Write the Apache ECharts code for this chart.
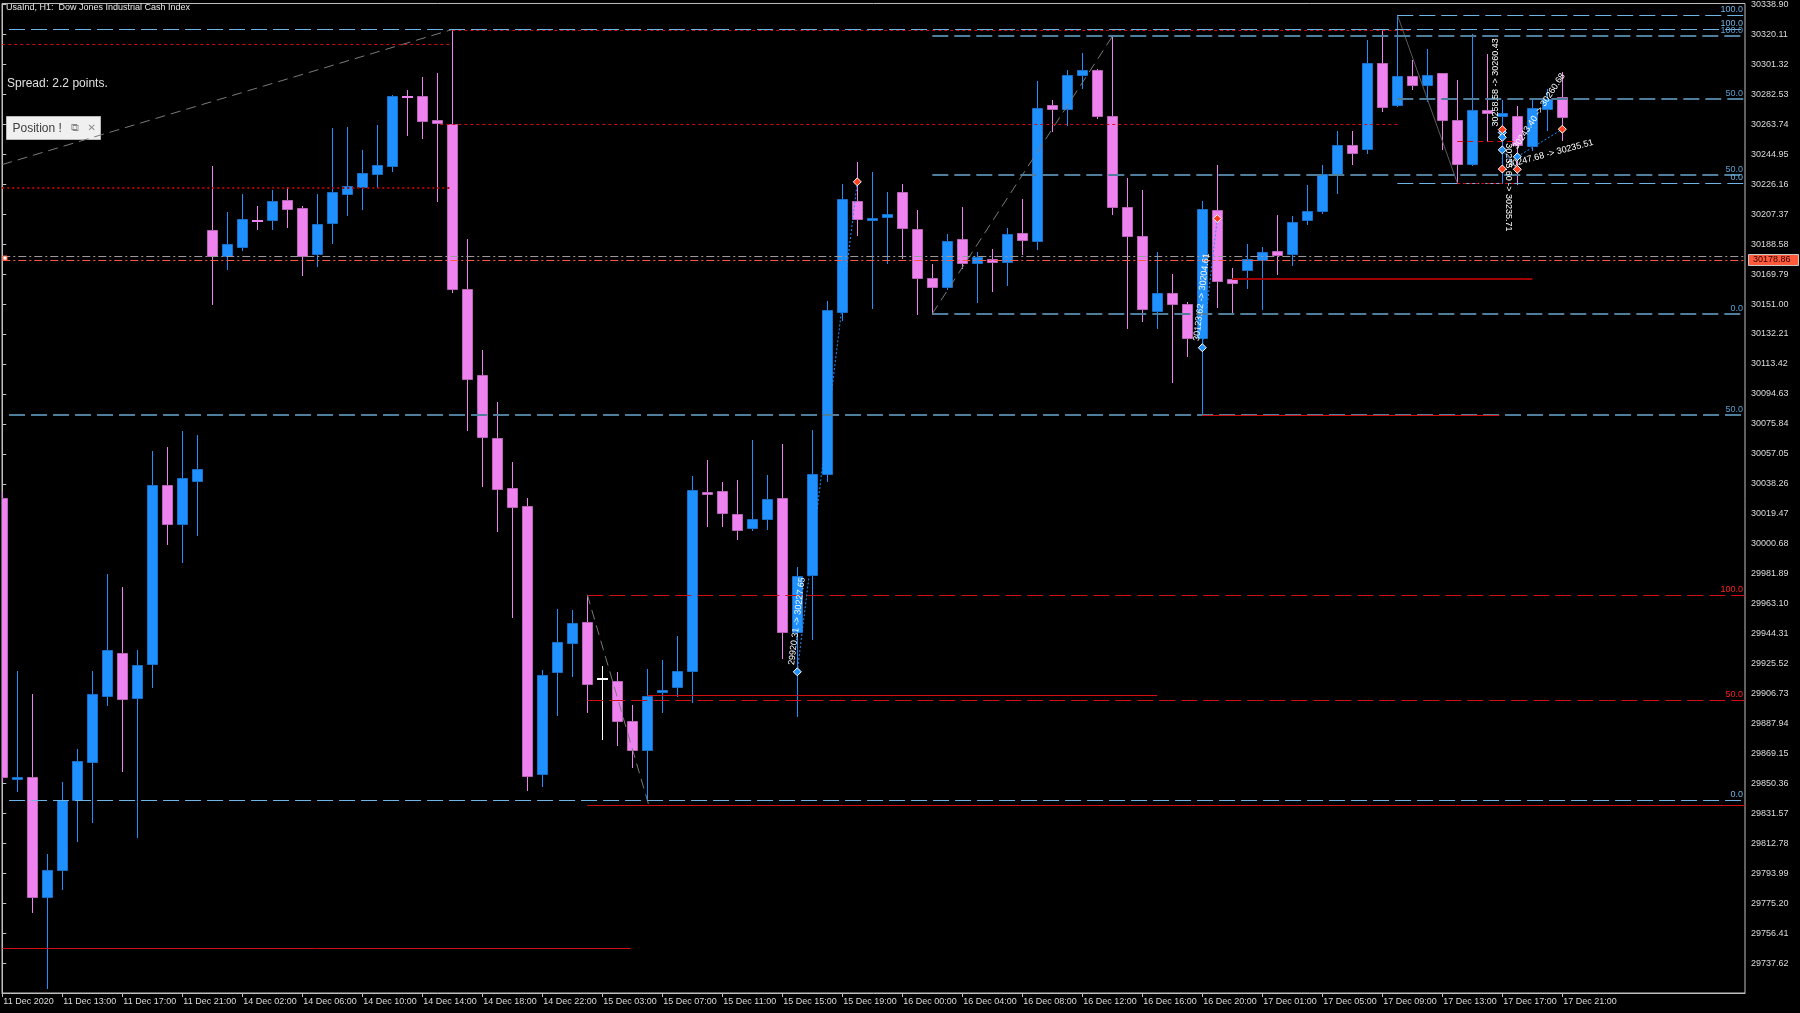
<!DOCTYPE html>
<html><head><meta charset="utf-8">
<script src="https://cdn.jsdelivr.net/npm/echarts@6/dist/echarts.min.js"></script>
<style>html,body{margin:0;padding:0;background:#000;}#c{width:1800px;height:1013px;}</style>
</head><body><div id="c"></div>
<script>
// ---------- data ----------
const tickLabels = ['11 Dec 2020','11 Dec 13:00','11 Dec 17:00','11 Dec 21:00','14 Dec 02:00','14 Dec 06:00','14 Dec 10:00','14 Dec 14:00','14 Dec 18:00','14 Dec 22:00','15 Dec 03:00','15 Dec 07:00','15 Dec 11:00','15 Dec 15:00','15 Dec 19:00','16 Dec 00:00','16 Dec 04:00','16 Dec 08:00','16 Dec 12:00','16 Dec 16:00','16 Dec 20:00','17 Dec 01:00','17 Dec 05:00','17 Dec 09:00','17 Dec 13:00','17 Dec 17:00','17 Dec 21:00'];
const yTicks = [29737.62,29756.41,29775.20,29793.99,29812.78,29831.57,29850.36,29869.15,29887.94,29906.73,29925.52,29944.31,29963.10,29981.89,30000.68,30019.47,30038.26,30057.05,30075.84,30094.63,30113.42,30132.21,30151.00,30169.79,30188.58,30207.37,30226.16,30244.95,30263.74,30282.53,30301.32,30320.11,30338.90];

const opens = [30029.62,29852.87,29854.62,29778.90,29796.12,29839.78,29863.96,29904.98,29932.29,29903.79,
29925.08,30037.51,30013.33,30040.14,30197.29,30181.00,30187.00,30203.93,30203.61,30216.14,
30211.32,30182.32,30201.86,30219.90,30224.60,30232.80,30237.87,30281.53,30281.66,30266.25,
30264.12,30160.21,30106.53,30066.95,30035.63,30024.42,29856.00,29920.27,29938.68,29951.82,
29916.13,29914.75,29889.32,29871.28,29907.67,29910.87,29921.02,30033.24,30033.43,30019.28,
30010.27,30016.28,30029.24,29945.13,29980.83,30044.09,30145.80,30215.51,30203.61,30205.30,
30221.59,30197.98,30167.48,30161.84,30191.53,30176.49,30179.19,30177.12,30195.66,30190.65,
30276.08,30273.32,30294.87,30297.75,30268.94,30211.94,30193.78,30146.62,30157.89,30150.81,
30129.71,30209.69,30166.47,30172.29,30178.37,30184.01,30182.51,30203.61,30209.25,30232.86,
30250.59,30248.27,30302.45,30276.08,30293.81,30288.17,30295.68,30266.69,30239.13,30272.51,
30269.19,30269.19,30250.40,30273.45,30280.65];
const highs = [30033.00,29920.76,29906.42,29805.71,29851.05,29871.66,29920.76,29981.89,29973.50,29933.73,
30058.87,30061.25,30071.33,30068.70,30237.56,30208.50,30219.96,30212.70,30222.84,30224.41,
30212.70,30219.90,30261.55,30262.18,30247.45,30263.12,30282.28,30285.16,30293.18,30295.75,
30323.50,30191.84,30122.19,30089.31,30052.23,30029.24,29921.20,29959.86,29958.79,29968.74,
29923.65,29919.88,29899.22,29921.76,29927.78,29942.57,30043.39,30053.36,30039.20,30040.58,
30065.89,30043.84,30063.32,29986.15,30071.90,30153.00,30226.22,30240.25,30233.86,30221.59,
30226.16,30209.88,30176.24,30194.66,30211.75,30183.57,30185.64,30198.61,30216.77,30290.67,
30279.21,30298.00,30308.21,30298.19,30318.86,30229.92,30222.59,30183.76,30169.60,30152.44,
30215.95,30238.50,30173.74,30188.39,30186.70,30206.75,30206.12,30225.53,30238.06,30259.36,
30259.80,30316.77,30323.24,30332.45,30304.26,30311.15,30296.00,30291.30,30320.55,30308.02,
30279.21,30275.45,30280.21,30286.10,30296.31];
const lows = [29852.00,29845.73,29769.76,29721.84,29784.16,29814.10,29826.12,29899.72,29858.01,29816.98,
29910.93,30000.37,29989.10,30005.88,30151.25,30172.99,30185.14,30198.23,30198.23,30199.36,
30169.29,30174.61,30189.02,30206.56,30210.69,30224.47,30234.68,30256.73,30254.85,30215.83,
30158.64,30071.71,30036.57,30008.45,29954.77,29846.11,29848.68,29893.39,29917.82,29895.08,
29878.00,29874.54,29860.39,29839.72,29895.08,29905.04,29901.59,30011.64,30012.08,30003.31,
30009.33,30009.77,29928.71,29892.77,29941.00,30040.14,30140.92,30194.41,30148.31,30176.49,
30180.00,30144.74,30144.74,30160.21,30173.74,30152.44,30159.33,30163.09,30182.51,30185.64,
30259.36,30263.55,30286.48,30267.69,30207.56,30136.16,30140.36,30136.16,30102.34,30118.43,
30081.92,30149.13,30144.93,30161.21,30147.68,30169.98,30175.43,30200.92,30208.00,30220.52,
30238.88,30245.77,30272.19,30275.02,30286.10,30278.15,30248.27,30226.98,30238.50,30253.53,
30226.98,30226.35,30247.90,30260.42,30254.16];
const closes = [29854.12,29854.12,29778.90,29796.12,29839.78,29864.46,29906.67,29933.73,29903.29,29924.83,
30037.51,30013.33,30041.58,30047.34,30181.00,30188.64,30204.55,30203.30,30215.51,30210.50,
30180.94,30200.98,30221.15,30224.91,30233.37,30238.19,30281.66,30281.03,30266.00,30264.49,
30160.21,30104.28,30067.57,30034.94,30023.48,29855.06,29918.32,29939.13,29950.71,29912.68,
29916.13,29889.32,29871.28,29905.16,29908.92,29920.58,30034.12,30031.99,30020.21,30009.07,
30016.28,30028.56,29945.13,29980.39,30044.53,30147.18,30216.70,30204.05,30204.86,30207.37,
30198.79,30167.10,30161.84,30190.46,30176.49,30180.44,30177.12,30194.66,30191.09,30273.76,
30273.32,30294.87,30297.75,30268.75,30211.76,30193.59,30147.68,30157.70,30150.81,30129.71,
30210.69,30165.22,30163.97,30179.37,30183.76,30181.88,30202.55,30209.06,30232.61,30250.78,
30246.02,30302.39,30274.70,30293.81,30288.17,30294.87,30266.25,30239.13,30272.51,30270.82,
30270.82,30250.59,30273.95,30279.40,30268.56];

// Fibonacci retracements: [startBar, price at 100, price at 0]
const fibs = [[0.45, 30323.50, 29839.72],[62, 30318.86, 30144.93],[93, 30332.45, 30226.98],[39, 29968.74, 29836.60]];
const fibLevels = [100, 50, 0];
// horizontal segments: [price, fromBar, toBar]  (toBar null = right edge)
const redSolid = [[29747.00, 0, 41.9],[29905.78, 43, 77],[30081.47, 80, 99.8]];
const darkRedSolid = [[30166.66, 82, 102]];
const redDotted = [[30323.20, 30, 94],[30313.85, 0, 30],[30264.18, 29.2, 93],[30226.98, 97, 101]];
const darkRedDotted = [[30223.85, 0, 29.8]];
const redDashed = [[30253.53, 97, 101]];
const askPrice = 30181.06, bidPrice = 30178.86;
// trend lines: [bar0, price0, bar1, price1]
const trendLines = [[0, 30238.5, 29.98, 30323.2],[62, 30144.93, 74, 30318.86],[39, 29968.74, 43.1, 29836.6]];
const trendSolid = [[93, 30332.45, 97, 30226.98]];
// trades: [entryBar, entryPrice, exitBar, exitPrice]
const trades = [[53, 29920.31, 57, 30227.65],[80, 30123.62, 81, 30204.61],[100, 30258.58, 100, 30260.43],[100, 30255.60, 100, 30235.71],[100, 30247.68, 101, 30235.51],[101, 30243.40, 104, 30260.68]];

// ---------- chart ----------
const XMIN = -0.02, XMAX = 116.18, YMIN = 29718.83, YMAX = 30339.53;
const BULL = {fill:'#1e90ff', edge:'#1a6fc8'}, BEAR = {fill:'#ee82ee', edge:'#b865b8'}, DOJI = {fill:'#ffffff', edge:'#ffffff'};
const LIGHT = '#6db5e6', STEEL = '#4f7d9c', RED = '#d01010', DARKRED = '#a00000';
const FONT = 'Liberation Sans';
// label style per trade: rotation override (deg), anchor and x shift
const tradeLabelRot = [null, null, null, null, 15, 57];
const tradeLabelAtExit = [false, false, false, false, true, false];
const tradeLabelDx = [6, 6, 6, 6, -8, 6];

const chart = echarts.init(document.getElementById('c'), null, {width:1800, height:1013});

function candleItem(params, api){
  const i = api.value(0), o = api.value(1), c = api.value(2), l = api.value(3), h = api.value(4);
  const pO = api.coord([i,o]), pC = api.coord([i,c]), pH = api.coord([i,h]), pL = api.coord([i,l]);
  const cx = Math.round(pO[0]);
  const col = c > o ? BULL : (c < o ? BEAR : DOJI);
  const ch = [{type:'line', shape:{x1:cx+0.5, y1:Math.round(pH[1]), x2:cx+0.5, y2:Math.round(pL[1])+1}, style:{stroke:col.fill, lineWidth:1}}];
  const top = Math.round(Math.min(pO[1],pC[1])), bot = Math.round(Math.max(pO[1],pC[1]));
  if (bot - top < 2) ch.push({type:'rect', shape:{x:cx-5, y:top, width:11, height:2}, style:{fill:col.fill}});
  else ch.push({type:'rect', shape:{x:cx-4.5, y:top+0.5, width:10, height:bot-top}, style:{fill:col.fill, stroke:col.edge, lineWidth:1}});
  return {type:'group', children:ch};
}

function hSeries(name, rows, color, width, dash, z){
  return {type:'custom', name, coordinateSystem:'cartesian2d', clip:true, silent:true, z: z || 5,
    data: rows.map(r => [r[1], r[0], r[2] == null ? XMAX : r[2]]), encode:{x:[0,2], y:1},
    renderItem:(p, api) => {
      const a = api.coord([api.value(0), api.value(1)]), b = api.coord([api.value(2), api.value(1)]);
      const y = Math.round(a[1]) + (width % 2 ? 0.5 : 0);
      return {type:'line', shape:{x1:a[0], y1:y, x2:b[0], y2:y}, style:{stroke:color, lineWidth:width, lineDash:dash}};
    }};
}
function tSeries(name, rows, color, width, dash){
  return {type:'custom', name, coordinateSystem:'cartesian2d', clip:true, silent:true, z:4,
    data: rows, encode:{x:[0,2], y:[1,3]},
    renderItem:(p, api) => {
      const a = api.coord([api.value(0), api.value(1)]), b = api.coord([api.value(2), api.value(3)]);
      return {type:'line', shape:{x1:a[0], y1:a[1], x2:b[0], y2:b[1]}, style:{stroke:color, lineWidth:width, lineDash:dash}};
    }};
}

const fibStyle = [
  [{c:LIGHT,w:1},{c:STEEL,w:2},{c:LIGHT,w:1}],
  [{c:STEEL,w:2},{c:STEEL,w:2},{c:STEEL,w:2}],
  [{c:LIGHT,w:1},{c:STEEL,w:2},{c:LIGHT,w:1}],
  [{c:RED,w:1,lab:'#ff2020'},{c:RED,w:1,lab:'#ff2020'},{c:RED,w:1,solid:true,nolab:true}]
];
const fibSeries = {type:'custom', name:'fib', coordinateSystem:'cartesian2d', clip:true, silent:true, z:5,
  data: fibs.map(f => [f[0], f[1], f[2]]), encode:{x:0, y:[1,2]},
  renderItem:(p, api) => {
    const f = fibs[p.dataIndex], st = fibStyle[p.dataIndex];
    const ch = [];
    fibLevels.forEach((lv, k) => {
      const price = f[2] + (f[1] - f[2]) * lv / 100;
      const a = api.coord([f[0], price]), b = api.coord([XMAX, price]);
      const s = st[k];
      const y = Math.round(a[1]) + (s.w % 2 ? 0.5 : 0);
      ch.push({type:'line', shape:{x1:a[0], y1:y, x2:b[0], y2:y}, style:{stroke:s.c, lineWidth:s.w, lineDash: s.solid ? null : [16,6]}});
      if (!s.nolab) ch.push({type:'text', x:b[0]-2, y:Math.round(a[1])-1, style:{text: lv.toFixed(1), fill: s.lab || (s.w > 1 ? '#5aa0d0' : LIGHT), font:'9px ' + FONT, align:'right', verticalAlign:'bottom'}});
    });
    return {type:'group', children:ch};
  }};

const tradeSeries = {type:'custom', name:'trades', coordinateSystem:'cartesian2d', clip:false, silent:true, z:8,
  data: trades, encode:{x:[0,2], y:[1,3]},
  renderItem:(p, api) => {
    const k = p.dataIndex, t = trades[k];
    const a = api.coord([t[0], t[1]]), b = api.coord([t[2], t[3]]);
    let dx = b[0]-a[0], dy = b[1]-a[1];
    if (Math.abs(dx) < 0.5 && Math.abs(dy) < 6) { dy = dy <= 0 ? -1 : 1; dx = 0; }
    const ang = tradeLabelRot[k] != null ? tradeLabelRot[k] * Math.PI / 180 : Math.atan2(-dy, dx);
    const anc = tradeLabelAtExit[k] ? b : a;
    const txt = t[1].toFixed(2) + ' -> ' + t[3].toFixed(2);
    const dia = (pt, fill) => ({type:'polygon', shape:{points:[[pt[0],pt[1]-4],[pt[0]+4,pt[1]],[pt[0],pt[1]+4],[pt[0]-4,pt[1]]]}, style:{fill, stroke:'#ffffff', lineWidth:1}});
    return {type:'group', children:[
      {type:'line', shape:{x1:a[0], y1:a[1], x2:b[0], y2:b[1]}, style:{stroke:'#1e90ff', lineWidth:1, lineDash:[2,2]}},
      dia(a, '#1e90ff'), dia(b, '#ff4020'),
      {type:'text', x:anc[0], y:anc[1], rotation:ang, style:{text:txt, x:tradeLabelDx[k], y:-2, fill:'#ffffff', font:'9px ' + FONT, align:'left', verticalAlign:'bottom'}}
    ]};
  }};

const priceTag = {type:'custom', name:'tag', coordinateSystem:'cartesian2d', clip:false, silent:true, z:9,
  data:[[XMAX, bidPrice]], encode:{x:0, y:1},
  renderItem:(p, api) => {
    const a = api.coord([XMAX, bidPrice]);
    const y = Math.round(a[1]);
    return {type:'group', children:[
      {type:'rect', shape:{x:1748.5, y:y-5.5, width:50, height:11}, style:{fill:'#ff5a3c', stroke:'#c8c8c8', lineWidth:1}},
      {type:'text', x:1753, y:y, style:{text:bidPrice.toFixed(2), fill:'#300000', font:'9px ' + FONT, verticalAlign:'middle'}},
      {type:'rect', shape:{x:3, y:y-4, width:4, height:4}, style:{fill:'#ffffff', stroke:'#ff5a3c', lineWidth:1}}
    ]};
  }};

const option = {
  backgroundColor:'#000',
  animation:false,
  grid:{left:2, right:55, top:2, bottom:20, show:true, borderColor:'#c0c0c0', borderWidth:1, backgroundColor:'#000'},
  xAxis:{type:'value', min:XMIN, max:XMAX, position:'bottom',
    axisLine:{show:true, onZero:false, lineStyle:{color:'#c0c0c0'}},
    axisTick:{show:true, length:4, customValues: tickLabels.map((s,k)=>k*4), lineStyle:{color:'#c0c0c0'}},
    axisLabel:{customValues: tickLabels.map((s,k)=>k*4), formatter: v => tickLabels[Math.round(v/4)] || '', color:'#dcdcdc', fontSize:9, fontFamily:FONT, align:'left', margin:4, padding:[0,0,0,1]},
    splitLine:{show:false}},
  yAxis:{type:'value', min:YMIN, max:YMAX, position:'right', scale:true,
    axisLine:{show:true, lineStyle:{color:'#c0c0c0'}},
    axisTick:{show:true, length:4, customValues:yTicks, lineStyle:{color:'#c0c0c0'}},
    axisLabel:{customValues:yTicks, formatter: v => v.toFixed(2), color:'#dcdcdc', fontSize:9, fontFamily:FONT, margin:6},
    splitLine:{show:false}},
  graphic:[
    {type:'text', left:6, top:3, style:{text:'UsaInd, H1:  Dow Jones Industrial Cash Index', fill:'#e8e8e8', font:'9px ' + FONT}},
    {type:'text', left:7, top:78, style:{text:'Spread: 2.2 points.', fill:'#e0e0e0', font:'12px ' + FONT}},
    {type:'group', left:6, top:116, children:[
      {type:'rect', shape:{x:0, y:0, width:94, height:23}, style:{fill:'#f0f0f0', stroke:'#b8b8b8', lineWidth:1}},
      {type:'text', x:6, y:12, style:{text:'Position !', fill:'#404040', font:'12px ' + FONT, verticalAlign:'middle'}},
      {type:'text', x:64, y:12, style:{text:'⧉', fill:'#8a8a8a', font:'11px DejaVu Sans', verticalAlign:'middle'}},
      {type:'text', x:81, y:12, style:{text:'✕', fill:'#8a8a8a', font:'bold 10px DejaVu Sans', verticalAlign:'middle'}}
    ]}
  ],
  series:[
    {type:'custom', name:'candles', coordinateSystem:'cartesian2d', clip:true, silent:true, z:2,
      data: opens.map((o,i) => [i, o, closes[i], lows[i], highs[i]]), encode:{x:0, y:[1,2,3,4]}, renderItem:candleItem},
    fibSeries,
    hSeries('redSolid', redSolid, RED, 1, null, 6),
    hSeries('darkRedSolid', darkRedSolid, DARKRED, 2, null, 6),
    hSeries('redDotted', redDotted, RED, 1, [3,3], 6),
    hSeries('darkRedDotted', darkRedDotted, '#b00000', 2, [2,3], 6),
    hSeries('redDashed', redDashed, RED, 1, [6,4], 6),
    hSeries('ask', [[askPrice, 0, null]], '#9a9a9a', 1, [8,3,2,3], 6),
    hSeries('bid', [[bidPrice, 0, null]], '#ff5a3c', 1, [8,3,2,3], 6),
    tSeries('trend', trendLines, '#7a7a7a', 1, [10,6]),
    tSeries('trendSolid', trendSolid, '#5a5a5a', 1, null),
    tradeSeries, priceTag
  ]
};
chart.setOption(option);
</script>
</body></html>
